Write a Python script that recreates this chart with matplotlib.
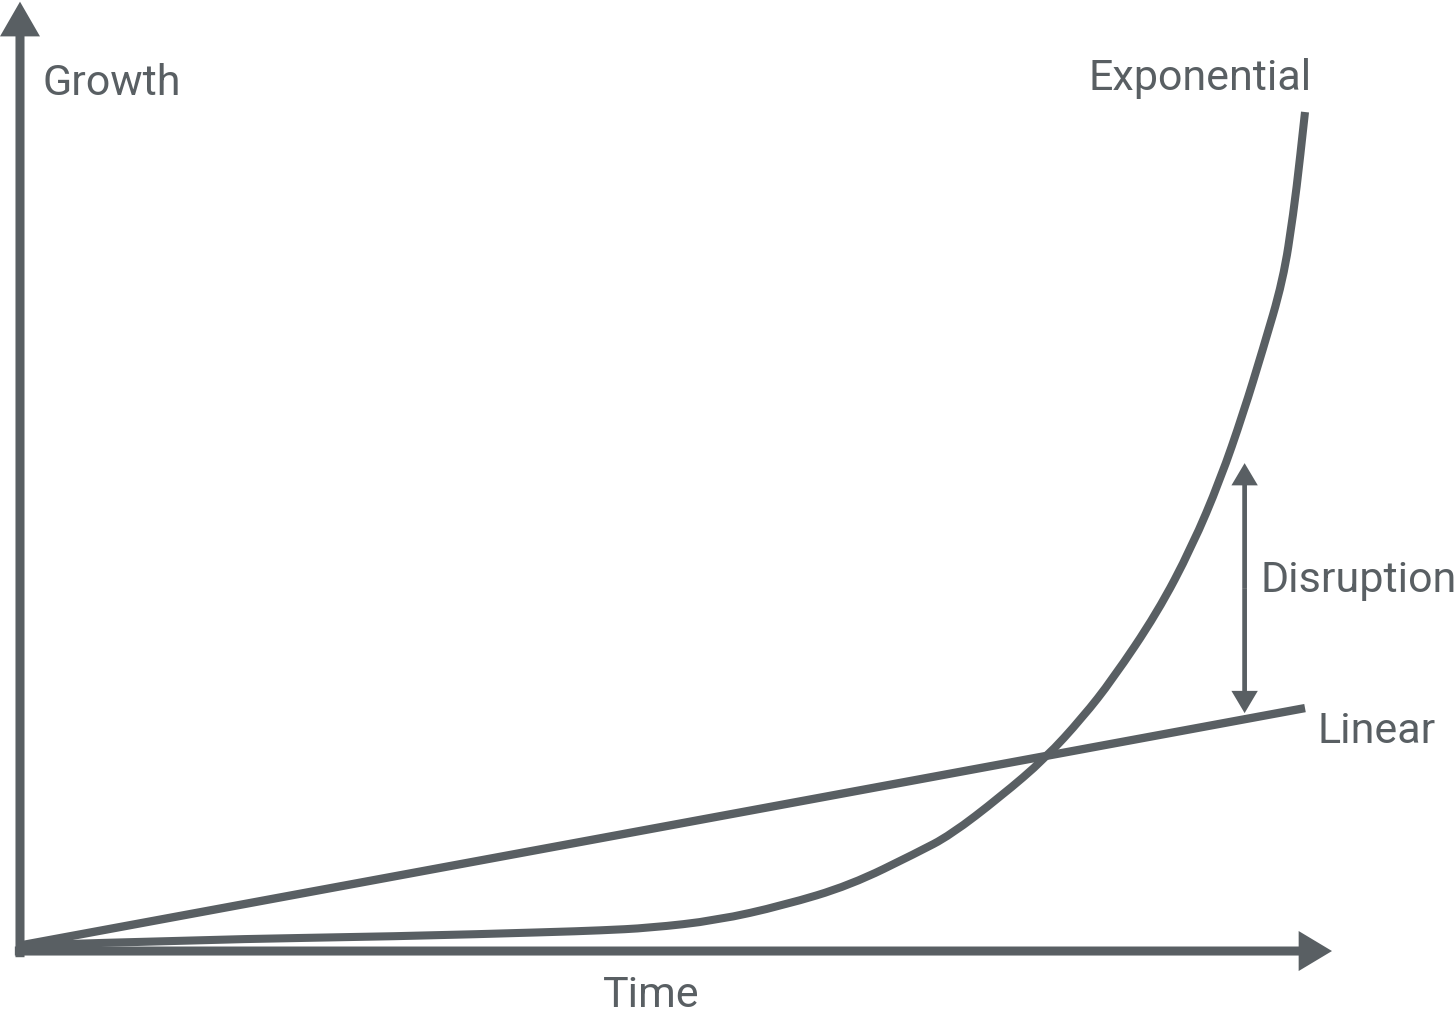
import matplotlib
matplotlib.use("Agg")
import matplotlib.pyplot as plt
from matplotlib.path import Path
from matplotlib.patches import PathPatch

# conceptual chart: time 0..100, growth 0..100
time_exp = [0, 14, 29.6, 41.2, 45.1, 49, 54.2, 59.4, 64.6, 69.8, 72.4, 76.3, 79.8, 82.7, 85.0,
            88.5, 91.2, 93.4, 95.2, 96.7, 98.3, 99.1, 99.6, 100]
growth_exp = [0.3, 1.0, 1.4, 1.9, 2.1, 2.4, 3.3, 5.1, 7.5, 11.4, 13.5, 18.1, 22.7, 27.6, 32.1,
              40.1, 48.0, 56.0, 64.0, 71.5, 79.9, 87.9, 94.3, 100]
time_lin = [0, 100]
growth_lin = [0.3, 28.7]
disruption_t = 95.3
disruption_range = [28.1, 58.0]

col = '#595f63'
plt.rcParams['font.family'] = ['Roboto', 'DejaVu Sans']

fig = plt.figure(figsize=(14.56, 10.22), dpi=100)
ax = fig.add_axes([0, 0, 1, 1])
ax.set_xlim(-1.556, 111.75)
ax.set_ylim(-8.85, 113.4)
ax.axis('off')

def arrow(p0, p1, tail, head_w, head_l):
    ax.annotate('', xy=p1, xytext=p0,
                arrowprops=dict(arrowstyle='simple,head_length=%g,head_width=%g,tail_width=%g' % (head_l, head_w, tail),
                                mutation_scale=1, lw=0, color=col, shrinkA=0, shrinkB=0))

# axes
arrow((0, -1.1), (0, 113.2), 6.5, 28.8, 25)
arrow((-0.4, -0.36), (102.1, -0.36), 6.5, 28.8, 24)

ax.plot(time_lin, growth_lin, color=col, lw=6, solid_capstyle='butt')

# smooth curve: read points used as quadratic control points
pts = list(zip(time_exp, growth_exp))
verts = [pts[0]]
codes = [Path.MOVETO]
for i in range(1, len(pts) - 1):
    nxt = pts[i + 1] if i + 1 == len(pts) - 1 else ((pts[i][0] + pts[i + 1][0]) / 2, (pts[i][1] + pts[i + 1][1]) / 2)
    verts += [pts[i], nxt]
    codes += [Path.CURVE3, Path.CURVE3]
ax.add_patch(PathPatch(Path(verts, codes), fill=False, edgecolor=col, lw=5.8, capstyle='butt'))

# disruption double arrow
mid = sum(disruption_range) / 2
arrow((disruption_t, mid), (disruption_t, disruption_range[0]), 3.4, 19, 16)
arrow((disruption_t, mid), (disruption_t, disruption_range[1]), 3.4, 19, 16)

fs = 31
ax.text(1.79, 102.0, 'Growth', color=col, fontsize=fs, ha='left', va='baseline')
ax.text(100.5, 102.6, 'Exponential', color=col, fontsize=fs, ha='right', va='baseline')
ax.text(96.5, 42.6, 'Disruption', color=col, fontsize=fs, ha='left', va='baseline')
ax.text(101.0, 24.5, 'Linear', color=col, fontsize=fs, ha='left', va='baseline')
ax.text(49.1, -7.06, 'Time', color=col, fontsize=fs, ha='center', va='baseline')

fig.savefig('out.png', dpi=100, facecolor='white')
